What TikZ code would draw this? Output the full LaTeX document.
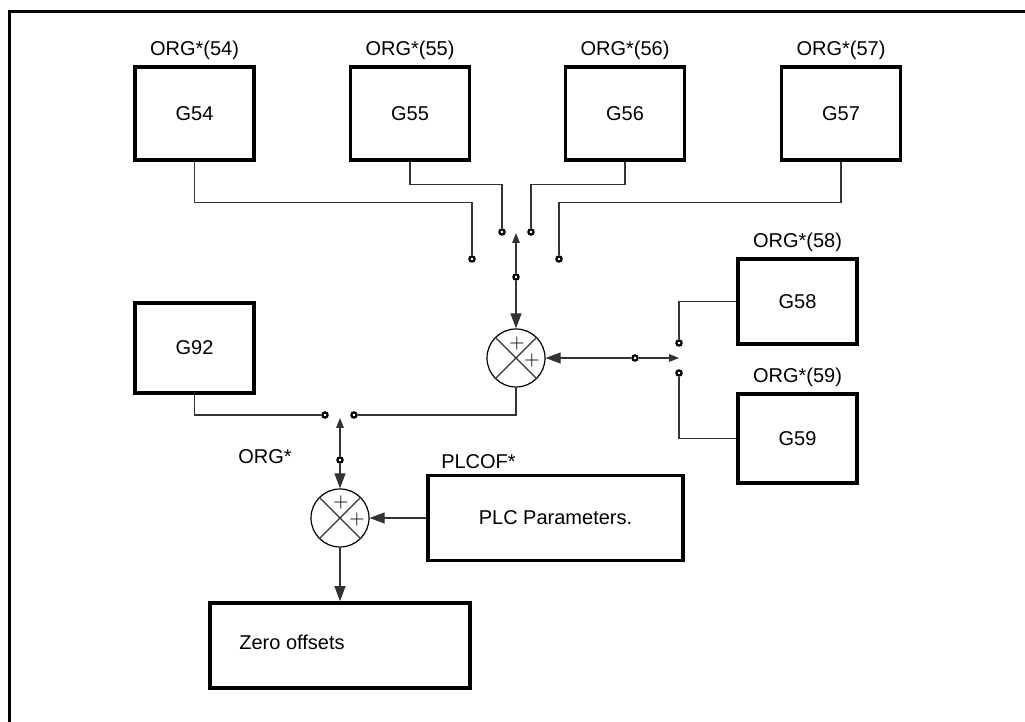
\documentclass[tikz,border=0pt]{standalone}
\usepackage{fontspec}
\setmainfont{Liberation Sans}
\usetikzlibrary{arrows.meta}

\begin{document}
\begin{tikzpicture}[x=0.5pt, y=-0.5pt, font=\fontsize{10}{12}\selectfont,
  box/.style={draw, line width=1.8pt, minimum width=59.5pt, minimum height=46.5pt, inner sep=2pt, fill=white},
  sum/.style={circle, draw, line width=0.6pt, minimum size=29pt, inner sep=0pt},
  sw/.style={circle, draw, fill=white, line width=1.1pt, minimum size=2.6pt, inner sep=0pt},
  wire/.style={draw=black!80, line width=0.55pt},
  arr/.style={wire, -{Triangle[length=7.5pt, width=5.5pt]}},
  tarr/.style={wire, -{Triangle[length=5pt, width=3.8pt]}},
  pl/.style={inner sep=0pt, font=\fontsize{10}{10}\selectfont}]
\useasboundingbox (0,0) rectangle (1025,722);
\draw[line width=1.5pt] (9,722) -- (9,11.3) -- (1025,11.3);
% offset tables
\node[box, label={[yshift=-1pt]above:ORG*(54)}] (g54) at (194.5,113.5) {G54};
\node[box, label={[yshift=-1pt]above:ORG*(55)}] (g55) at (410,113.5) {G55};
\node[box, label={[yshift=-1pt]above:ORG*(56)}] (g56) at (625,113.5) {G56};
\node[box, label={[yshift=-1pt]above:ORG*(57)}] (g57) at (841,113.5) {G57};
\node[box, minimum height=42.5pt, label={[yshift=-1pt]above:ORG*(58)}] (g58) at (797.5,301.5) {G58};
\node[box, minimum height=44.5pt, label={[yshift=-1pt]above:ORG*(59)}] (g59) at (797.5,438.5) {G59};
\node[box, minimum height=45pt] (g92) at (194.5,348) {G92};
\node[box, minimum width=127.5pt, minimum height=42.5pt, label={[xshift=-38.5pt, yshift=-1pt]above:PLCOF*}] (plc) at (555.5,518) {PLC Parameters.};
\node[box, minimum width=130pt, minimum height=42.5pt, label={[xshift=-24pt, yshift=1.5pt]center:Zero offsets}] (zero) at (340,645.5) {};
% summing points
\node[sum] (sum1) at (516,358) {};
\node[sum] (sum2) at (340,518) {};
\draw[wire] (sum1.north west) -- (sum1.south east) (sum1.north east) -- (sum1.south west);
\draw[wire] (sum2.north west) -- (sum2.south east) (sum2.north east) -- (sum2.south west);
\node[pl] at ([shift={(1,-14)}]sum1.center) {$+$};
\node[pl] at ([shift={(16,2)}]sum1.center) {$+$};
\node[pl] at ([shift={(1,-15)}]sum2.center) {$+$};
\node[pl] at ([shift={(17,1)}]sum2.center) {$+$};
% selector contacts
\node[sw] (s1a) at (472,259) {};
\node[sw] (s1b) at (502,232) {};
\node[sw] (s1c) at (531,232) {};
\node[sw] (s1d) at (559,259) {};
\node[sw] (m1) at (516,277) {};
\coordinate (tip1) at (516,233);
\node[sw] (s2a) at (679,343) {};
\node[sw] (s2b) at (679,373) {};
\node[sw] (m2) at (635,358) {};
\coordinate (tip2) at (679,358);
\node[sw] (s3a) at (325,415) {};
\node[sw] (s3b) at (354,415) {};
\node[sw] (m3) at (340,460) {};
\coordinate (tip3) at (340,418);
\node (org) at (265,457) {ORG*};
% connections
\draw[wire] (g54.south) -- ++(0,41) -| (s1a);
\draw[wire] (g55.south) -- ++(0,23) -| (s1b);
\draw[wire] (g56.south) -- ++(0,23) -| (s1c);
\draw[wire] (g57.south) -- ++(0,41) -| (s1d);
\draw[tarr] (m1) -- (tip1);
\draw[arr] (m1) -- (sum1.north);
\draw[wire] (g58.west) -| (s2a);
\draw[wire] (g59.west) -| (s2b);
\draw[tarr] (m2) -- (tip2);
\draw[arr] (m2) -- (sum1.east);
\draw[wire] (sum1.south) |- (s3b);
\draw[wire] (g92.south) |- (s3a);
\draw[tarr] (m3) -- (tip3);
\draw[arr] (m3) -- (sum2.north);
\draw[arr] (plc.west) -- (sum2.east);
\draw[arr] (sum2.south) -- (zero.north);
\end{tikzpicture}
\end{document}
